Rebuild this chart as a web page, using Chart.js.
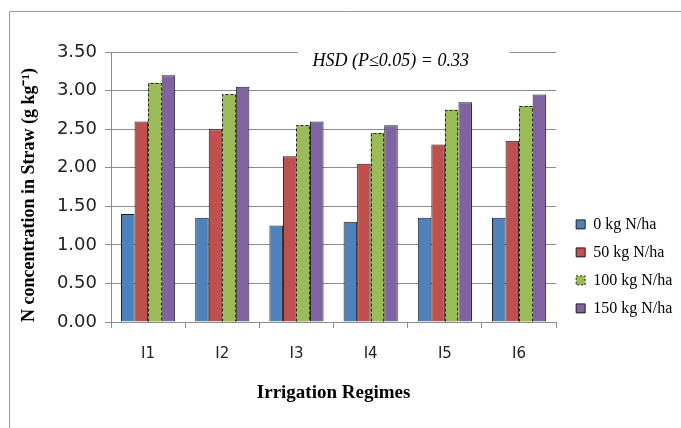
<!DOCTYPE html>
<html>
<head>
<meta charset="utf-8">
<script src="https://cdn.jsdelivr.net/npm/chart.js@4/dist/chart.umd.min.js"></script>
<style>
html,body{margin:0;padding:0;background:#fff;}
#wrap{width:681px;height:428px;position:relative;}
</style>
</head>
<body>
<div id="wrap"><canvas id="c" width="681" height="428"></canvas></div>
<script>
const categories = ["I1", "I2", "I3", "I4", "I5", "I6"];
const seriesNames = ["0 kg N/ha", "50 kg N/ha", "100 kg N/ha", "150 kg N/ha"];
const n0 = [1.40, 1.35, 1.25, 1.30, 1.35, 1.35];
const n50 = [2.60, 2.50, 2.15, 2.05, 2.30, 2.35];
const n100 = [3.10, 2.95, 2.55, 2.45, 2.75, 2.80];
const n150 = [3.20, 3.05, 2.60, 2.55, 2.85, 2.95];
const yTicks = [0, 0.5, 1.0, 1.5, 2.0, 2.5, 3.0, 3.5];
const annotationText = "HSD (P\u22640.05) = 0.33";

const colors = ["#4F81BD", "#C0504D", "#9BBB59", "#8064A2"];
const gridColor = "#8c8c8c";

const frame = {
  id: 'frame',
  beforeDraw(chart) {
    const ctx = chart.ctx;
    ctx.save();
    ctx.fillStyle = '#fff';
    ctx.fillRect(0, 0, chart.width, chart.height);
    ctx.strokeStyle = '#9a9a9a';
    ctx.lineWidth = 1;
    ctx.beginPath();
    ctx.moveTo(9.5, chart.height);
    ctx.lineTo(9.5, 11.5);
    ctx.lineTo(chart.width, 11.5);
    ctx.stroke();
    ctx.restore();
  }
};

const dashedGreen = {
  id: 'dashedGreen',
  afterDatasetsDraw(chart) {
    const ctx = chart.ctx;
    const meta = chart.getDatasetMeta(2);
    ctx.save();
    ctx.strokeStyle = '#222';
    ctx.lineWidth = 1;
    ctx.setLineDash([3, 2]);
    meta.data.forEach(el => {
      const p = el.getProps(['x', 'y', 'base', 'width'], true);
      const l = Math.round(p.x - p.width / 2) + 0.5;
      const r = Math.round(p.x + p.width / 2) - 0.5;
      const t = Math.round(p.y) + 0.5;
      const b = p.base;
      ctx.beginPath();
      ctx.moveTo(l, b);
      ctx.lineTo(l, t);
      ctx.lineTo(r, t);
      ctx.lineTo(r, b);
      ctx.stroke();
    });
    ctx.restore();
  }
};

const hsd = {
  id: 'hsd',
  afterDraw(chart) {
    const ctx = chart.ctx;
    const a = chart.chartArea;
    const y = chart.scales.y.getPixelForValue(3.5);
    const x0 = a.left + (a.right - a.left) * 0.42;
    const x1 = a.left + (a.right - a.left) * 0.895;
    ctx.save();
    ctx.fillStyle = '#fff';
    ctx.fillRect(x0, y - 3, x1 - x0, 24);
    ctx.fillStyle = '#000';
    ctx.font = 'italic 18px "Liberation Serif"';
    ctx.textAlign = 'center';
    ctx.textBaseline = 'alphabetic';
    ctx.fillText(annotationText, (x0 + x1) / 2 - 13, y + 14);
    ctx.restore();
  }
};

const datasets = [n0, n50, n100, n150].map((d, i) => ({
  label: seriesNames[i],
  data: d,
  backgroundColor: colors[i],
  borderColor: '#1e1e1e',
  borderWidth: i === 2 ? 0 : 1,
  categoryPercentage: 0.73,
  barPercentage: 1.0
}));

new Chart(document.getElementById('c'), {
  type: 'bar',
  data: { labels: categories, datasets },
  plugins: [frame, dashedGreen, hsd],
  options: {
    responsive: false,
    animation: false,
    devicePixelRatio: 1,
    layout: { padding: { left: 0, top: 52, right: 4, bottom: 0 } },
    plugins: {
      tooltip: { enabled: false },
      legend: {
        display: true,
        position: 'right',
        align: 'start',
        title: { display: true, text: '', font: { size: 12 }, padding: { top: 0, bottom: 138 } },
        labels: {
          boxWidth: 9,
          boxHeight: 9,
          padding: 12,
          color: '#000',
          font: { family: '"Liberation Serif"', size: 16 },
          generateLabels(chart) {
            const items = Chart.defaults.plugins.legend.labels.generateLabels(chart);
            items.forEach((it, i) => {
              it.lineWidth = 1;
              it.strokeStyle = '#1e1e1e';
              if (i === 2) it.lineDash = [2, 2];
            });
            return items;
          }
        }
      }
    },
    scales: {
      x: {
        offset: true,
        grid: { display: true, drawOnChartArea: false, drawTicks: true, tickLength: 6, color: gridColor },
        border: { color: gridColor },
        ticks: { color: '#222', font: { family: '"DejaVu Sans"', size: 15 }, padding: 17 },
        title: {
          display: true,
          text: 'Irrigation Regimes',
          color: '#000',
          font: { family: '"Liberation Serif"', size: 19, weight: 'bold' },
          padding: { top: 0, bottom: 24 }
        },
        afterFit(s) { s.height = 106; }
      },
      y: {
        min: 0,
        max: 3.5,
        afterBuildTicks(s) { s.ticks = yTicks.map(v => ({ value: v })); },
        grid: { color: gridColor, tickLength: 6 },
        border: { color: gridColor },
        ticks: {
          color: '#222',
          font: { family: '"DejaVu Sans"', size: 18 },
          padding: 8,
          callback: v => Number(v).toFixed(2)
        },
        title: {
          display: true,
          align: 'start',
          text: 'N concentration in Straw (g kg\u207B\u00B9)',
          color: '#000',
          font: { family: '"Liberation Serif"', size: 18, weight: 'bold' },
          padding: { top: 19, bottom: 0 }
        },
        afterFit(s) { s.width = 111; }
      },
      yGap: {
        position: 'right',
        display: true,
        grid: { display: false },
        border: { display: false },
        ticks: { display: false },
        afterFit(s) { s.width = 8; }
      }
    }
  }
});
</script>
</body>
</html>
